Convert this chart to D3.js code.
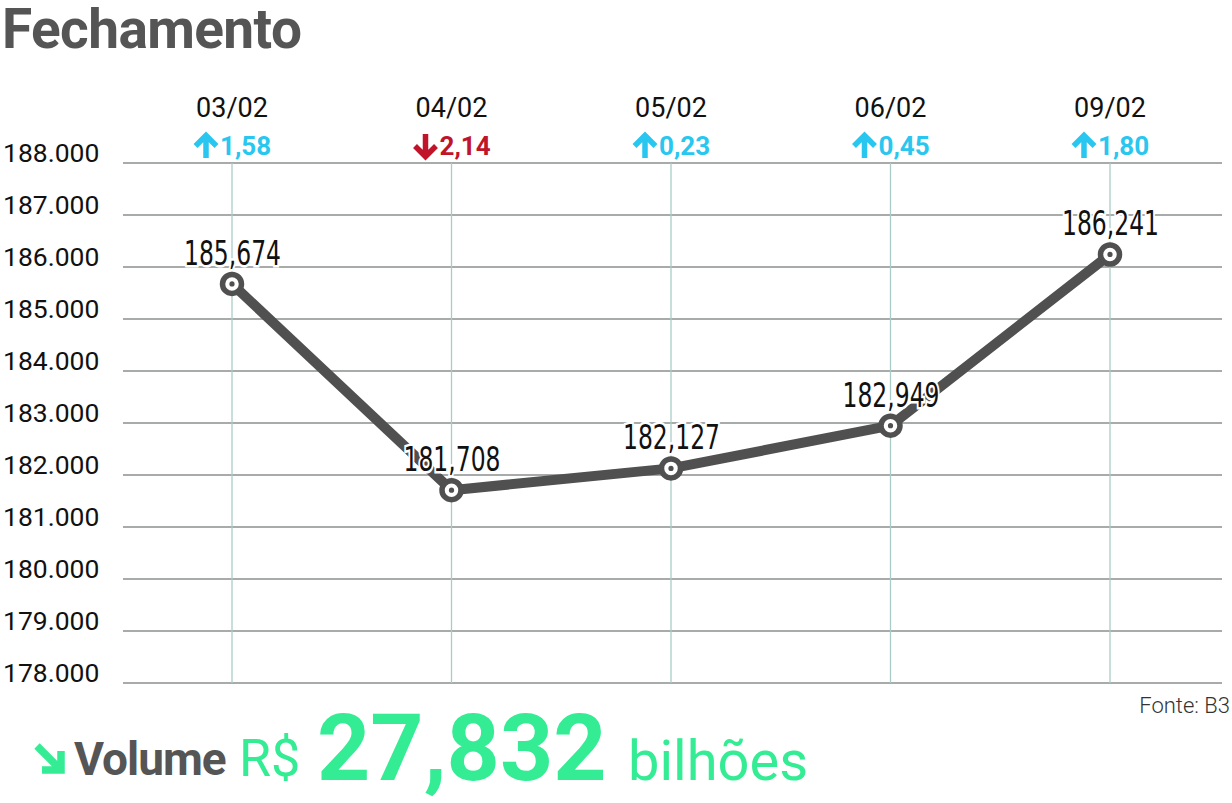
<!DOCTYPE html>
<html><head><meta charset="utf-8">
<script src="https://cdn.jsdelivr.net/npm/d3@7"></script>
<style>
html,body{margin:0;padding:0;background:#fff;}
svg{display:block;}
</style></head>
<body>
<svg id="chart" width="1232" height="803"></svg>
<script>
const dates = ["03/02","04/02","05/02","06/02","09/02"];
const closes = [185.674, 181.708, 182.127, 182.949, 186.241];
const closeLabels = ["185,674","181,708","182,127","182,949","186,241"];
const changes = [1.58, -2.14, 0.23, 0.45, 1.80];
const changeLabels = ["1,58","2,14","0,23","0,45","1,80"];
const yTicks = [178,179,180,181,182,183,184,185,186,187,188];
const yTickLabels = ["178.000","179.000","180.000","181.000","182.000","183.000","184.000","185.000","186.000","187.000","188.000"];
const title = "Fechamento";
const source = "Fonte: B3";
const volumeValue = "27,832";

const svg = d3.select("#chart");
const x = d3.scalePoint().domain(dates).range([232, 1110]);
const y = d3.scaleLinear().domain([178, 188]).range([683, 163]);

const dark = "#505050", up = "#29c6ef", down = "#c0142a", green = "#33ec93";

// title
svg.append("text").attr("x", 2).attr("y", 48)
  .attr("font-family", "Roboto").attr("font-weight", 700).attr("font-size", 55)
  .attr("letter-spacing", -0.6).attr("fill", "#555").text(title);

// horizontal grid
svg.append("g").selectAll("line").data(yTicks).join("line")
  .attr("x1", 123).attr("x2", 1222)
  .attr("y1", d => y(d)).attr("y2", d => y(d))
  .attr("stroke", "#8a8f8e").attr("stroke-width", 1.3);

// vertical grid
svg.append("g").selectAll("line").data(dates).join("line")
  .attr("x1", d => x(d)).attr("x2", d => x(d))
  .attr("y1", y(188)).attr("y2", y(178))
  .attr("stroke", "#a9cdc6").attr("stroke-width", 1.3);

// y labels
svg.append("g").selectAll("text").data(yTicks).join("text")
  .attr("x", 3).attr("y", d => y(d) - 1)
  .attr("font-family", "Roboto").attr("font-size", 26.5).attr("fill", "#111")
  .text((d, i) => yTickLabels[i]);

// date labels
svg.append("g").selectAll("text").data(dates).join("text")
  .attr("x", d => x(d)).attr("y", 117).attr("text-anchor", "middle")
  .attr("font-family", "Roboto").attr("font-size", 27).attr("fill", "#111")
  .text(d => d);

// change labels with arrows
const chg = svg.append("g").selectAll("g").data(dates).join("g")
  .attr("transform", d => `translate(${x(d)},0)`);
chg.append("text").attr("x", -12).attr("y", 155)
  .attr("font-family", "Roboto").attr("font-weight", 700).attr("font-size", 26)
  .attr("fill", (d, i) => changes[i] >= 0 ? up : down)
  .text((d, i) => changeLabels[i]);
chg.append("path")
  .attr("d", (d, i) => changes[i] >= 0
    ? "M-26,136 L-26,158 M-36.5,146 L-26,135.5 L-15.5,146"
    : "M-26,134 L-26,156 M-36.5,146 L-26,156.5 L-15.5,146")
  .attr("fill", "none").attr("stroke-width", 5.5).attr("stroke-linejoin", "miter")
  .attr("stroke", (d, i) => changes[i] >= 0 ? up : down);

// line
const line = d3.line().x((d, i) => x(dates[i])).y(d => y(d));
svg.append("path").datum(closes).attr("d", line)
  .attr("fill", "none").attr("stroke", dark).attr("stroke-width", 10)
  .attr("stroke-linejoin", "round");

// value labels with halo
svg.append("g").selectAll("text").data(closes).join("text")
  .attr("x", (d, i) => x(dates[i]) - 48).attr("y", d => y(d) - 19)
  .attr("font-family", "DejaVu Sans, sans-serif")
  .attr("font-size", 33).attr("fill", "#111")
  .attr("textLength", 97).attr("lengthAdjust", "spacingAndGlyphs")
  .attr("stroke", "#fff").attr("stroke-width", 5).attr("paint-order", "stroke")
  .text((d, i) => closeLabels[i]);

// markers
const mk = svg.append("g").selectAll("g").data(closes).join("g")
  .attr("transform", (d, i) => `translate(${x(dates[i])},${y(d)})`);
mk.append("circle").attr("r", 9.5).attr("fill", "#fff").attr("stroke", dark).attr("stroke-width", 5.5);
mk.append("circle").attr("r", 2.6).attr("fill", dark);

// source
svg.append("text").attr("x", 1230).attr("y", 713).attr("text-anchor", "end")
  .attr("font-family", "Roboto").attr("font-weight", 300).attr("font-size", 22)
  .attr("fill", "#333").text(source);

// volume line
svg.append("path").attr("d", "M37,746 L61,770 M61,751 L61,770 L42,770")
  .attr("fill", "none").attr("stroke", green).attr("stroke-width", 7.5);
svg.append("text").attr("x", 74).attr("y", 775)
  .attr("font-family", "Roboto").attr("font-weight", 700).attr("font-size", 46)
  .attr("letter-spacing", -1).attr("fill", "#555").text("Volume");
svg.append("text").attr("x", 239).attr("y", 776)
  .attr("font-family", "Roboto").attr("font-weight", 400).attr("font-size", 52)
  .attr("fill", green).text("R$");
svg.append("text").attr("x", 317).attr("y", 780)
  .attr("font-family", "Roboto").attr("font-weight", 700).attr("font-size", 93)
  .attr("fill", green).text(volumeValue);
svg.append("text").attr("x", 628).attr("y", 780)
  .attr("font-family", "Roboto").attr("font-weight", 400).attr("font-size", 56)
  .attr("fill", green).text("bilhões");
</script>
</body></html>
